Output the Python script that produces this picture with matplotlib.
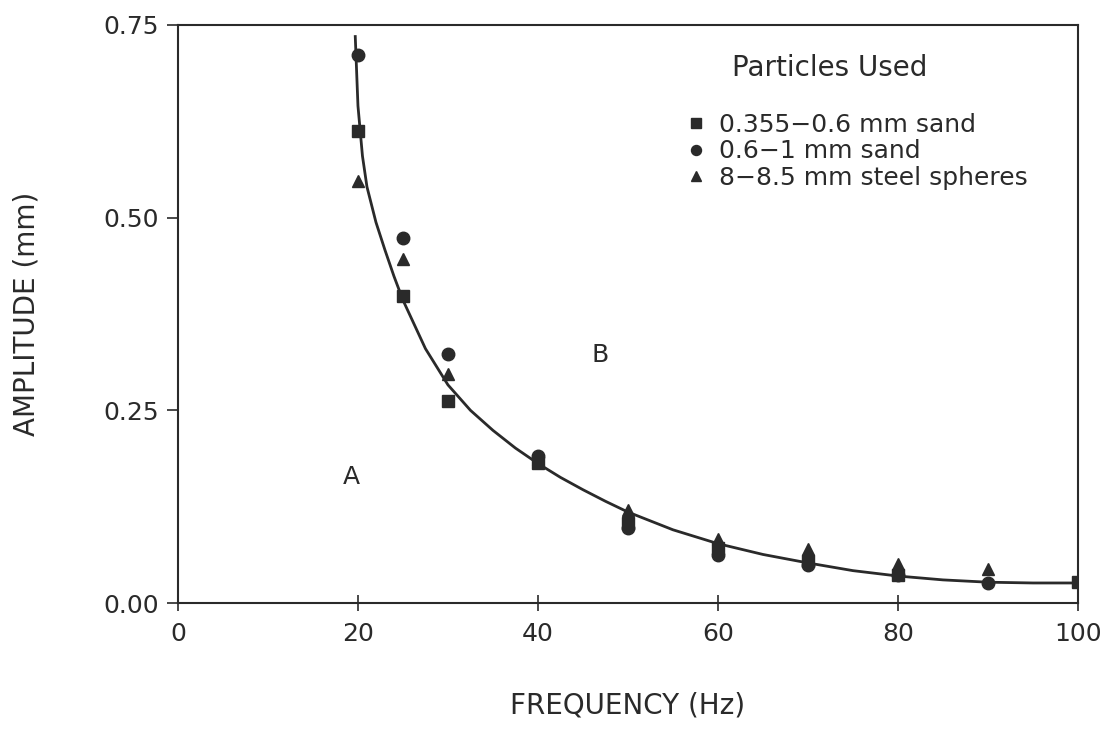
import numpy as np
import matplotlib.pyplot as plt

freq_sq = [20, 25, 30, 40, 50, 60, 70, 80, 100]
amp_sq = [0.612, 0.399, 0.262, 0.182, 0.104, 0.071, 0.054, 0.036, 0.027]

freq_ci = [20, 25, 30, 40, 50, 60, 70, 80, 90]
amp_ci = [0.711, 0.474, 0.323, 0.191, 0.097, 0.062, 0.049, 0.036, 0.026]

freq_tr = [20, 25, 30, 40, 50, 60, 70, 80, 90]
amp_tr = [0.548, 0.447, 0.297, 0.187, 0.121, 0.083, 0.070, 0.051, 0.044]

# fitted curve
curve_f = [19.7, 20.0, 20.5, 21, 22, 23, 24, 25, 27.5, 30, 32.5, 35, 37.5, 40,
           42.5, 45, 47.5, 50, 55, 60, 65, 70, 75, 80, 85, 90, 95, 100]
curve_a = [0.735, 0.645, 0.580, 0.540, 0.494, 0.458, 0.424, 0.393, 0.330, 0.283,
           0.250, 0.224, 0.201, 0.181, 0.163, 0.147, 0.132, 0.118, 0.095, 0.077,
           0.063, 0.052, 0.042, 0.035, 0.030, 0.027, 0.026, 0.026]

ink = '#2a2a2a'
plt.rcParams['font.family'] = ['DejaVu Sans']

fig = plt.figure(figsize=(11.15, 7.37), dpi=100)
ax = fig.add_axes([0.1596, 0.1818, 0.8072, 0.7843])

ax.plot(curve_f, curve_a, color=ink, lw=2.0)
ax.plot(freq_sq, amp_sq, 's', color=ink, ms=9, label='0.355\u22120.6 mm sand')
ax.plot(freq_ci, amp_ci, 'o', color=ink, ms=9, label='0.6\u22121 mm sand')
ax.plot(freq_tr, amp_tr, '^', color=ink, ms=9, label='8\u22128.5 mm steel spheres')

ax.set_xlim(0, 100)
ax.set_ylim(0, 0.75)
ax.set_xticks([0, 20, 40, 60, 80, 100])
ax.set_yticks([0, 0.25, 0.5, 0.75])
ax.set_yticklabels(['0.00', '0.25', '0.50', '0.75'])
ax.tick_params(axis='x', direction='inout', length=12, width=1.2, colors=ink,
               labelsize=18, pad=8)
ax.tick_params(axis='y', direction='out', length=8, width=1.2, colors=ink,
               labelsize=18, pad=6)
for s in ax.spines.values():
    s.set_linewidth(1.5)
    s.set_color(ink)

ax.set_xlabel('FREQUENCY (Hz)', fontsize=20, color=ink, va='center')
ax.set_ylabel('AMPLITUDE (mm)', fontsize=20, color=ink, va='center')
ax.xaxis.set_label_coords(0.5, -0.1765)
ax.yaxis.set_label_coords(-0.168, 0.5)

ax.text(19.3, 0.163, 'A', fontsize=18, color=ink, ha='center', va='center')
ax.text(46.9, 0.322, 'B', fontsize=18, color=ink, ha='center', va='center')
ax.text(72.4, 0.694, 'Particles Used', fontsize=20, color=ink, ha='center', va='center')

ax.legend(loc='upper left', bbox_to_anchor=(0.569, 0.848), frameon=False, fontsize=18,
          handlelength=0.5, handletextpad=0.65, labelspacing=0.1, markerscale=0.8,
          labelcolor=ink, borderpad=0, borderaxespad=0)

fig.savefig('out.png', dpi=100)
